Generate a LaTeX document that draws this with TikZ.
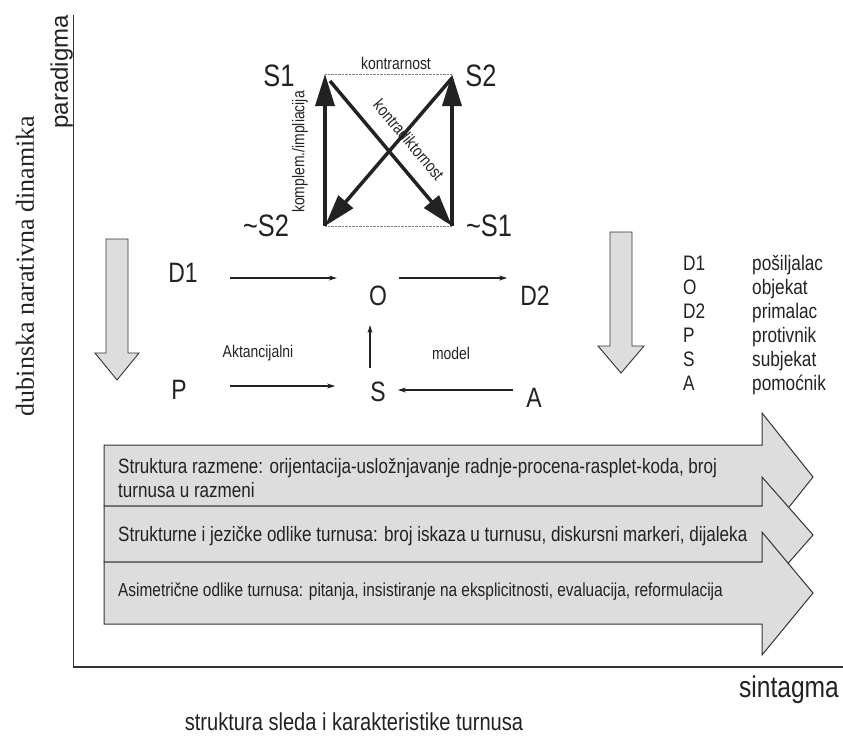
\documentclass[tikz,border=0pt]{standalone}
\usepackage{fontspec}
\setmainfont[FakeStretch=0.82]{Liberation Sans}
\newfontfamily\longsans{Liberation Sans}
\newfontfamily\serifdub{Liberation Serif}
\usetikzlibrary{arrows.meta,positioning}

\definecolor{ink}{HTML}{222222}
\definecolor{edge}{HTML}{333333}
\definecolor{bandfill}{HTML}{DDDDDD}

\tikzset{
  lbl/.style={inner sep=0pt, text=ink},
  corner/.style={lbl, font=\fontsize{31}{31}\selectfont},
  actant/.style={lbl, font=\fontsize{28}{28}\selectfont},
  small/.style={lbl, font=\fontsize{17}{17}\selectfont},
  legend/.style={lbl, anchor=base west, font=\fontsize{21}{21}\selectfont},
  bandtext/.style={lbl, anchor=west, align=left, font=\fontsize{20.8}{24}\selectfont},
  conn/.style={->, draw=ink, line width=1.1pt},
  square/.style={-{Triangle[length=32pt,width=19pt]}, draw=ink, line width=3.5pt},
  downarrow/.style={draw=edge, fill=bandfill, line width=0.9pt},
  band/.style={draw=edge, fill=bandfill, line width=1pt}
}

\begin{document}
\begin{tikzpicture}[x=1pt, y=1pt, >={Stealth[length=8pt,width=5pt]}]
    \useasboundingbox (0,0) rectangle (843,-736);

    % axes
    \coordinate (ytop) at (73,-15);
    \coordinate (origin) at (73,-667);
    \coordinate (xend) at (843,-667);
    \draw[edge, line width=1pt] (ytop) -- (origin);
    \draw[edge, line width=1.4pt] (origin) -- (xend);
    \node[lbl, rotate=90, anchor=south east, font=\longsans\fontsize{24}{24}\selectfont] (paradigma) at (ytop) {paradigma};
    \node[lbl, rotate=90, font=\serifdub\fontsize{26}{26}\selectfont] (depth) at (25,-266) {dubinska narativna dinamika};
    \node[lbl, font=\fontsize{30}{30}\selectfont] (sintagma) at (789,-690) {sintagma};
    \node[lbl, font=\fontsize{24.5}{24.5}\selectfont] (sequence) at (354,-722) {struktura sleda i karakteristike turnusa};

    % semiotic square
    \coordinate (tl) at (325,-74);
    \coordinate (tr) at (452,-74);
    \coordinate (bl) at (325,-226);
    \coordinate (br) at (452,-226);
    \draw[gray, densely dotted] (tl) -- (tr);
    \draw[gray, densely dotted] (bl) -- (br);
    \draw[square] (bl) -- (tl);
    \draw[square] (br) -- (tr);
    \draw[square] ([shift={(5pt,-7pt)}]tl) -- (br);
    \draw[square] ([shift={(0pt,-4pt)}]tr) -- (bl);

    \node[corner] (s1) at (279,-76) {S1};
    \node[corner] (s2) at (481,-76) {S2};
    \node[corner] (ns2) at (266,-226) {\textasciitilde S2};
    \node[corner] (ns1) at (489,-226) {\textasciitilde S1};
    \node[small] (contrary) at (396,-63) {kontrarnost};
    \node[small, rotate=90] (implication) at (300,-152) {komplem./impliacija};
    \node[small, rotate=-50] (contradiction) at (409,-140) {kontradiktornost};

    % actantial model
    \node[actant] (d1) at (183,-273) {D1};
    \node[actant] (o) at (378,-296) {O};
    \node[actant] (d2) at (535,-296) {D2};
    \node[actant] (p) at (179,-390) {P};
    \node[actant] (s) at (378,-392) {S};
    \node[actant] (a) at (534,-398) {A};
    \node[small] (aktanc) at (258,-353) {Aktancijalni};
    \node[small] (model) at (451,-353) {model};

    \draw[conn, shorten <=32pt, shorten >=32pt] ([yshift=-5pt]d1.east) -- ([yshift=-5pt]d1.east -| o.west);
    \draw[conn, shorten <=12pt, shorten >=13pt] ([yshift=18pt]o.east) -- ([yshift=18pt]o.east -| d2.west);
    \draw[conn, shorten <=14pt, shorten >=19pt] ([xshift=-8pt]s.north) -- ([xshift=-8pt]s.north |- o.south);
    \draw[conn, shorten <=43pt, shorten >=35pt] ([yshift=4pt]p.east) -- ([yshift=4pt]p.east -| s.west);
    \draw[conn, shorten <=13pt, shorten >=12pt] ([yshift=8pt]a.west) -- ([yshift=8pt]a.west -| s.east);

    % down arrows
    \draw[downarrow] (106,-239) -- (128,-239) -- (128,-353) -- (139,-353) -- (117,-380) -- (95,-353) -- (106,-353) -- cycle;
    \draw[downarrow] (610,-232) -- (632,-232) -- (632,-346) -- (644,-346) -- (621,-373) -- (598,-346) -- (610,-346) -- cycle;

    % legend
    \node[legend] (k1) at (683,-270) {D1};
    \node[legend] (r1) at (752,-270) {pošiljalac};
    \node[legend] (k2) at (683,-294) {O};
    \node[legend] (r2) at (752,-294) {objekat};
    \node[legend] (k3) at (683,-318) {D2};
    \node[legend] (r3) at (752,-318) {primalac};
    \node[legend] (k4) at (683,-342) {P};
    \node[legend] (r4) at (752,-342) {protivnik};
    \node[legend] (k5) at (683,-366) {S};
    \node[legend] (r5) at (752,-366) {subjekat};
    \node[legend] (k6) at (683,-390) {A};
    \node[legend] (r6) at (752,-390) {pomoćnik};

    % turn-taking bands
    \draw[band] (104,-445) -- (762,-445) -- (762,-413) -- (813,-477) -- (762,-541) -- (762,-506) -- (104,-506) -- cycle;
    \node[bandtext] (exchange) at (118,-478) {Struktura razmene: orijentacija-uslo\v{z}njavanje radnje-procena-rasplet-koda, broj\\turnusa u razmeni};
    \draw[band] (104,-506) -- (762,-506) -- (762,-477) -- (813,-535) -- (762,-593) -- (762,-562) -- (104,-562) -- cycle;
    \node[bandtext] (features) at (118,-536) {Strukturne i jezi\v{c}ke odlike turnusa: broj iskaza u turnusu, diskursni markeri, dijaleka};
    \draw[band] (104,-562) -- (762,-562) -- (762,-532) -- (813,-593) -- (762,-655) -- (762,-624) -- (104,-624) -- cycle;
    \node[bandtext, font=\fontsize{18.8}{22}\selectfont] (asym) at (118,-592) {Asimetri\v{c}ne odlike turnusa: pitanja, insistiranje na eksplicitnosti, evaluacija, reformulacija};
\end{tikzpicture}
\end{document}
